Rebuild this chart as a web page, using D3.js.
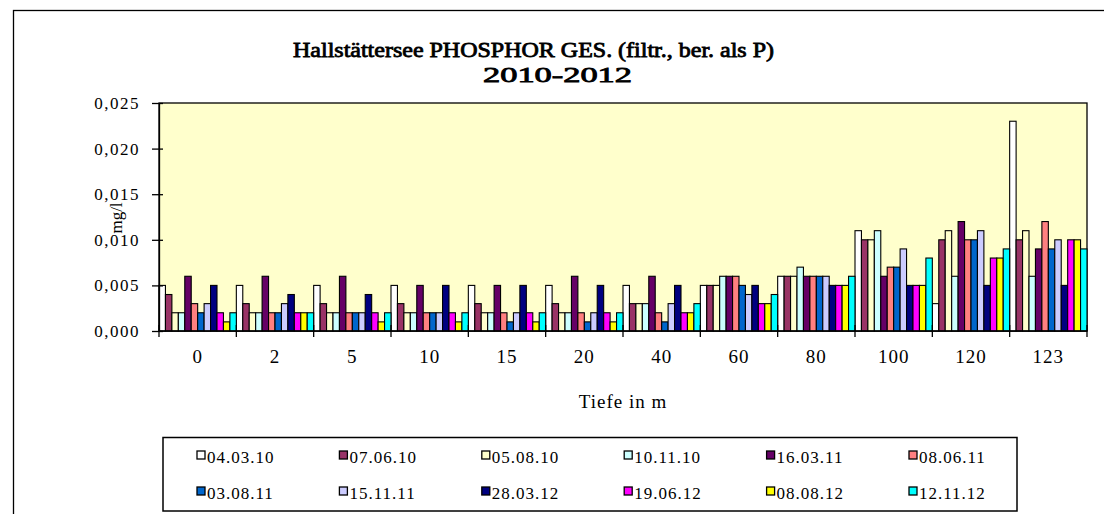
<!DOCTYPE html>
<html>
<head>
<meta charset="utf-8">
<script src="https://cdn.jsdelivr.net/npm/d3@7"></script>
<style>
    body { margin: 0; background: #fff; }
    text { font-family: "Liberation Serif", "Times New Roman", serif; fill: #000; }
</style>
</head>
<body>
<script>
// Tiefen (Kategorien)
const depths = ["0", "2", "5", "10", "15", "20", "40", "60", "80", "100", "120", "123"];

// Probenahmedaten (Serien)
const dates = ["04.03.10", "07.06.10", "05.08.10", "10.11.10", "16.03.11", "08.06.11",
    "03.08.11", "15.11.11", "28.03.12", "19.06.12", "08.08.12", "12.11.12"];

const colors = ["#ffffff", "#993366", "#ffffcc", "#ccffff", "#660066", "#ff8080",
    "#0066cc", "#ccccff", "#000080", "#ff00ff", "#ffff00", "#00ffff"];

// Werte je Serie, in der Reihenfolge der Tiefen (mg/l)
const v040310 = [0.005, 0.005, 0.005, 0.005, 0.005, 0.005, 0.005, 0.005, 0.006, 0.011, 0.003, 0.023];
const v070610 = [0.004, 0.003, 0.003, 0.003, 0.003, 0.003, 0.003, 0.005, 0.006, 0.010, 0.010, 0.010];
const v050810 = [0.002, 0.002, 0.002, 0.002, 0.002, 0.002, 0.003, 0.005, 0.006, 0.010, 0.011, 0.011];
const v101110 = [0.002, 0.002, 0.002, 0.002, 0.002, 0.002, 0.003, 0.006, 0.007, 0.011, 0.006, 0.006];
const v160311 = [0.006, 0.006, 0.006, 0.005, 0.005, 0.006, 0.006, 0.006, 0.006, 0.006, 0.012, 0.009];
const v080611 = [0.003, 0.002, 0.002, 0.002, 0.002, 0.002, 0.002, 0.006, 0.006, 0.007, 0.010, 0.012];
const v030811 = [0.002, 0.002, 0.002, 0.002, 0.001, 0.001, 0.001, 0.005, 0.006, 0.007, 0.010, 0.009];
const v151111 = [0.003, 0.003, 0.002, 0.002, 0.002, 0.002, 0.003, 0.004, 0.006, 0.009, 0.011, 0.010];
const v280312 = [0.005, 0.004, 0.004, 0.005, 0.005, 0.005, 0.005, 0.005, 0.005, 0.005, 0.005, 0.005];
const v190612 = [0.002, 0.002, 0.002, 0.002, 0.002, 0.002, 0.002, 0.003, 0.005, 0.005, 0.008, 0.010];
const v080812 = [0.001, 0.002, 0.001, 0.001, 0.001, 0.001, 0.002, 0.003, 0.005, 0.005, 0.008, 0.010];
const v121112 = [0.002, 0.002, 0.002, 0.002, 0.002, 0.002, 0.003, 0.004, 0.006, 0.008, 0.009, 0.009];

const series = [v040310, v070610, v050810, v101110, v160311, v080611,
    v030811, v151111, v280312, v190612, v080812, v121112];

const yTicks = [0, 0.005, 0.010, 0.015, 0.020, 0.025];

const W = 1104, H = 514;
const plot = { left: 159, top: 103, right: 1087, bottom: 331 };

const svg = d3.select("body").append("svg").attr("width", W).attr("height", H);

// Rahmen des Diagramms (läuft rechts/unten aus dem Bild)
svg.append("rect")
    .attr("x", 13.5).attr("y", 10.5)
    .attr("width", 1200).attr("height", 600)
    .attr("fill", "#fff").attr("stroke", "#000").attr("stroke-width", 1.3);

// Titel (fett über Kontur, damit die Serifenschrift bleibt)
const titleStyle = sel => sel
    .style("font-family", "'Liberation Serif'")
    .style("font-size", "21px")
    .attr("stroke", "#000").attr("stroke-width", 0.8)
    .attr("lengthAdjust", "spacingAndGlyphs");
svg.append("text")
    .attr("x", 293).attr("y", 57)
    .attr("textLength", 481)
    .call(titleStyle)
    .text("Hallstättersee PHOSPHOR GES. (filtr., ber. als P)");
svg.append("text")
    .attr("x", 483).attr("y", 82)
    .attr("textLength", 149)
    .call(titleStyle)
    .text("2010-2012");

// Skalen
const x0 = d3.scaleBand().domain(depths).range([plot.left, plot.right]).paddingInner(0).paddingOuter(0);
const x1 = d3.scaleBand().domain(d3.range(dates.length)).range([0, x0.bandwidth()]).padding(0);
const y = d3.scaleLinear().domain([0, 0.025]).range([plot.bottom, plot.top]);

// Plotfläche
svg.append("rect")
    .attr("x", plot.left).attr("y", plot.top)
    .attr("width", plot.right - plot.left).attr("height", plot.bottom - plot.top)
    .attr("fill", "#ffffcc").attr("stroke", "#000").attr("stroke-width", 1.3);

// Balken
const groups = svg.append("g").selectAll("g")
    .data(series)
    .join("g")
    .attr("fill", (d, i) => colors[i]);

groups.selectAll("rect")
    .data((d, i) => d.map((v, j) => ({ v: v, s: i, depth: depths[j] })))
    .join("rect")
    .attr("x", d => x0(d.depth) + x1(d.s))
    .attr("y", d => y(d.v))
    .attr("width", x1.bandwidth())
    .attr("height", d => y(0) - y(d.v))
    .attr("stroke", "#000")
    .attr("stroke-width", 1.1);

// Y-Achse
const fmt = d => d3.format(".3f")(d).replace(".", ",");
const yAxis = svg.append("g")
    .attr("transform", `translate(${plot.left},0)`)
    .call(d3.axisLeft(y).tickValues(yTicks).tickSizeOuter(0).tickSizeInner(7).tickPadding(12).tickFormat(fmt));
yAxis.select(".domain").attr("stroke", "#000").attr("stroke-width", 1.3);
yAxis.selectAll(".tick line").clone().attr("x2", 4);
yAxis.selectAll(".tick line").attr("stroke-width", 1.3);
yAxis.selectAll("text")
    .style("font-family", "'Liberation Serif'").style("font-size", "17px").style("letter-spacing", "1.5px")
    .attr("fill", "#000");

// X-Achse: Teilstriche an den Kategoriegrenzen, kreuzend
const xAxis = svg.append("g").attr("transform", `translate(0,${plot.bottom})`);
xAxis.append("line")
    .attr("x1", plot.left).attr("x2", plot.right)
    .attr("stroke", "#000").attr("stroke-width", 1.3);
const bounds = depths.map(d => x0(d)).concat([plot.right]);
xAxis.selectAll(".xt")
    .data(bounds)
    .join("line")
    .attr("class", "xt")
    .attr("x1", d => d).attr("x2", d => d)
    .attr("y1", -6).attr("y2", 6)
    .attr("stroke", "#000").attr("stroke-width", 1.3);
xAxis.selectAll(".xl")
    .data(depths)
    .join("text")
    .attr("class", "xl")
    .attr("x", d => x0(d) + x0.bandwidth() / 2)
    .attr("y", 32)
    .attr("text-anchor", "middle")
    .style("font-size", "19px").style("letter-spacing", "1px")
    .text(d => d);

// Achsentitel
svg.append("text")
    .attr("x", 623).attr("y", 408)
    .attr("text-anchor", "middle")
    .style("font-size", "19px").style("letter-spacing", "1px")
    .text("Tiefe in m");
svg.append("text")
    .attr("transform", "translate(122,218) rotate(-90)")
    .attr("text-anchor", "middle")
    .style("font-size", "17px")
    .text("mg/l");

// Legende
const legend = svg.append("g");
legend.append("rect")
    .attr("x", 163).attr("y", 437.5)
    .attr("width", 854).attr("height", 73.5)
    .attr("fill", "#fff").attr("stroke", "#000").attr("stroke-width", 1.5);

const items = legend.selectAll(".item")
    .data(dates)
    .join("g")
    .attr("class", "item")
    .attr("transform", (d, i) => `translate(${197 + (i % 6) * 142.4},${i < 6 ? 451 : 487})`);
items.append("rect")
    .attr("width", 8).attr("height", 8)
    .attr("fill", (d, i) => colors[i])
    .attr("stroke", "#000").attr("stroke-width", 1.3);
items.append("text")
    .attr("x", 10).attr("y", 12)
    .style("font-size", "17px").style("letter-spacing", "1px")
    .text(d => d);
</script>
</body>
</html>
